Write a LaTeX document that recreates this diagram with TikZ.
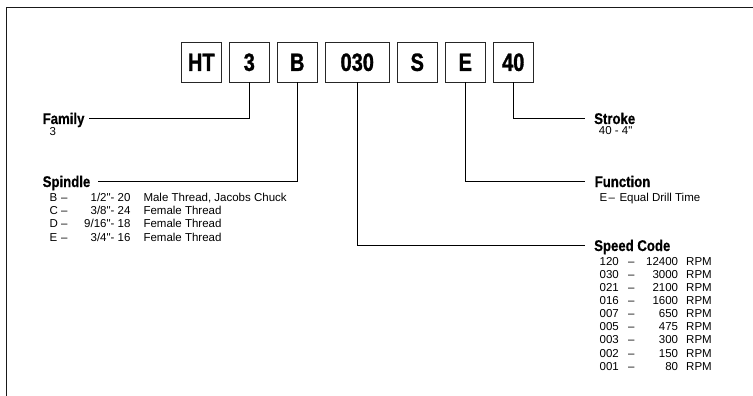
\documentclass[tikz,border=0pt]{standalone}
\usepackage{fontspec}
\setmainfont{Liberation Sans}[Ligatures=TeXOff]
\newfontfamily\condbox{Liberation Sans}[FakeStretch=0.8, FakeBold=1.2, Ligatures=TeXOff]
\newfontfamily\condhead{Liberation Sans}[FakeStretch=0.85, FakeBold=0.6, Ligatures=TeXOff]
\begin{document}
\begin{tikzpicture}[x=1pt,y=-1pt,
  codebox/.style={draw=black!85, line width=0.9pt, minimum width=39.5pt, minimum height=39.5pt, inner sep=0pt,
    font=\fontsize{25}{25}\condbox\bfseries},
  head/.style={anchor=base west, inner sep=0pt, font=\fontsize{15.5}{16}\condhead\bfseries},
  body/.style={anchor=base west, inner sep=0pt, font=\fontsize{11.5}{12}\selectfont},
  bodyr/.style={anchor=base east, inner sep=0pt, font=\fontsize{11.5}{12}\selectfont},
  link/.style={line width=1pt, black}]
\useasboundingbox (0,0) rectangle (753,396);
% frame
\draw[line width=1.5pt, black!90] (6.5,396) -- (6.5,7.5) -- (753,7.5);
% code boxes
\node[codebox] (bHT) at (201.25,62.3) {HT};
\node[codebox] (b3) at (249.25,62.3) {3};
\node[codebox] (bB) at (297.25,62.3) {B};
\node[codebox, minimum width=63.5pt] (b030) at (357.25,62.3) {030};
\node[codebox] (bS) at (417.25,62.3) {S};
\node[codebox] (bE) at (465.25,62.3) {E};
\node[codebox] (b40) at (513.25,62.3) {40};
% headings
\node[head] (fam) at (42.5,124) {Family};
\node[head] (spi) at (42.5,187) {Spindle};
\node[head] (str) at (594,124) {Stroke};
\node[head] (fun) at (594.5,187) {Function};
\node[head] (spd) at (594,251) {Speed Code};
% connector ends
\coordinate (famend) at (89,118.5);
\coordinate (spiend) at (98,181.5);
\coordinate (strend) at (585,118.5);
\coordinate (funend) at (585,181.5);
\coordinate (spdend) at (585,245.5);
\draw[link] (b3.south) |- (famend);
\draw[link] (bB.south) |- (spiend);
\draw[link] (b40.south) |- (strend);
\draw[link] (bE.south) |- (funend);
\draw[link] (b030.south) |- (spdend);
% family
\node[body] (fam1) at (49.5,135.5) {3};
% stroke
\node[body] (str1) at (598.7,134) {40 - 4"};
% function
\node[body] (fun1a) at (599.5,201) {E};
\node[body] (fun1b) at (608.3,201) {–};
\node[body] (fun1c) at (619.3,201) {Equal Drill Time};
% spindle
\node[body] (s1a) at (49.3,201) {B};
\node[body] (s1b) at (61,201) {–};
\node[bodyr] (s1c) at (130.7,201) {1/2"- 20};
\node[body] (s1d) at (143.3,201) {Male Thread, Jacobs Chuck};
\node[body] (s2a) at (49.3,214.4) {C};
\node[body] (s2b) at (61,214.4) {–};
\node[bodyr] (s2c) at (130.7,214.4) {3/8"- 24};
\node[body] (s2d) at (143.3,214.4) {Female Thread};
\node[body] (s3a) at (49.3,227.8) {D};
\node[body] (s3b) at (61,227.8) {–};
\node[bodyr] (s3c) at (130.7,227.8) {9/16"- 18};
\node[body] (s3d) at (143.3,227.8) {Female Thread};
\node[body] (s4a) at (49.3,241.2) {E};
\node[body] (s4b) at (61,241.2) {–};
\node[bodyr] (s4c) at (130.7,241.2) {3/4"- 16};
\node[body] (s4d) at (143.3,241.2) {Female Thread};
% speed codes
\foreach \c/\r [count=\i] in {120/12400, 030/3000, 021/2100, 016/1600, 007/650, 005/475, 003/300, 002/150, 001/80}{
  \node[body] (sc\i a) at (599.5,{265+13.15*(\i-1)}) {\c};
  \node[body] (sc\i b) at (628,{265+13.15*(\i-1)}) {–};
  \node[bodyr] (sc\i c) at (678.3,{265+13.15*(\i-1)}) {\r};
  \node[body] (sc\i d) at (686,{265+13.15*(\i-1)}) {RPM};
}
\end{tikzpicture}
\end{document}
